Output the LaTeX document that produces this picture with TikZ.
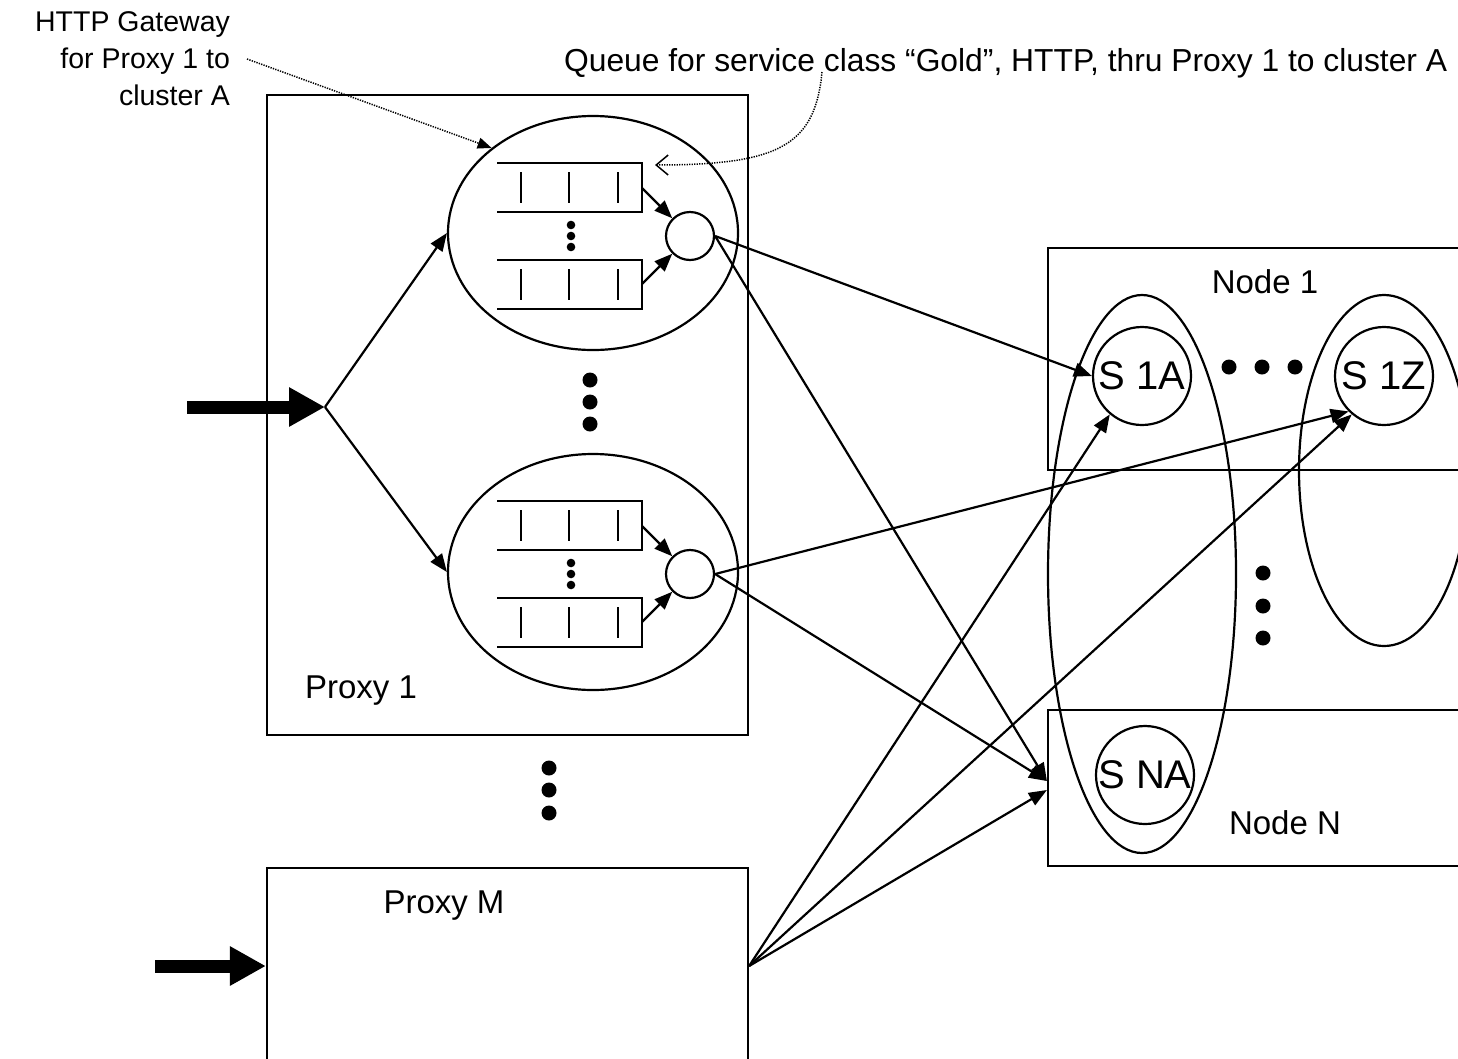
\documentclass[tikz,border=0pt]{standalone}
\usepackage{fontspec}
\setmainfont{Liberation Sans}
\usetikzlibrary{arrows.meta,shapes.geometric}
\begin{document}
\begin{tikzpicture}[x=1pt,y=-1pt,line width=2.2pt,
  lbl/.style={inner sep=0pt,font=\fontsize{28.5}{37}\selectfont},
  qlbl/.style={inner sep=0pt,font=\fontsize{31.8}{37}\selectfont},
  big/.style={inner sep=0pt,font=\fontsize{33}{40}\selectfont},
  box/.style={draw,rectangle,inner sep=0pt},
  oval/.style={draw,ellipse,inner sep=0pt},
  srv/.style={draw,circle,inner sep=0pt,minimum size=48pt},
  svc/.style={draw,circle,inner sep=0pt,minimum size=98pt,font=\fontsize{40}{40}\selectfont},
  flow/.style={-{Triangle[length=18pt,width=14pt]}},
  feed/.style={line width=13pt,-{Triangle[length=36pt,width=37pt]}},
  note/.style={line width=1.5pt,dash pattern=on 1.3pt off 1.2pt}]
\useasboundingbox (0,0) rectangle (1458,1058);
\clip (0,0) rectangle (1458,1058);

% proxy boxes
\node[box,minimum width=481pt,minimum height=640pt] (p1) at (507.5,415) {};
\node[box,minimum width=481pt,minimum height=196pt] (pm) at (507.5,966) {};
\node[big,anchor=base] (p1l) at (361,698) {Proxy 1};
\node[big,anchor=base] (pml) at (444,913) {Proxy M};

% gateways with their servers
\node[oval,minimum width=290pt,minimum height=234pt] (g1) at (593,233) {};
\node[oval,minimum width=290pt,minimum height=236pt] (g2) at (593,572) {};
\node[srv] (c1) at (690,236) {};
\node[srv] (c2) at (690,574) {};

% queues (open on the left) with three slots each
\foreach \cy/\n in {236/1,574/2}{
  \foreach \dy in {-48.5,48.5}{
    \draw (497,{\cy+\dy-24.5}) -- (642,{\cy+\dy-24.5}) -- (642,{\cy+\dy+24.5}) -- (497,{\cy+\dy+24.5});
    \foreach \bx in {521,569,618}
      \draw (\bx,{\cy+\dy-15.5}) -- (\bx,{\cy+\dy+15.5});
  }
  \foreach \dy in {-11,0,11}
    \fill (571,{\cy+\dy}) circle (4.3pt);
  \coordinate (qa\n) at (642,{\cy-48});
  \coordinate (qb\n) at (642,{\cy+48});
}
\draw[flow] (qa1) -- (c1);
\draw[flow] (qb1) -- (c1);
\draw[flow] (qa2) -- (c2);
\draw[flow] (qb2) -- (c2);

% ellipsis dots
\foreach \y in {380,402,424} \fill (590,\y) circle (7.5pt);
\foreach \y in {768,790,813} \fill (549,\y) circle (7.5pt);
\foreach \x in {1229,1262,1295} \fill (\x,367) circle (7.5pt);
\foreach \y in {573,606,638} \fill (1263,\y) circle (7.5pt);

% incoming traffic
\coordinate (fan) at (325,407);
\coordinate (in1) at (187,407);
\coordinate (inm) at (155,966);
\draw[feed] (in1) -- (fan);
\draw[feed] (inm) -- (pm.west);
\draw[flow] (fan) -- (g1.west);
\draw[flow] (fan) -- (g2.west);

% cluster nodes
\node[box,minimum width=440pt,minimum height=222pt] (n1) at (1268,359) {};
\node[box,minimum width=440pt,minimum height=156pt] (nN) at (1268,788) {};
\node[big,anchor=base] (n1l) at (1265,293) {Node 1};
\node[big,anchor=base] (nNl) at (1285,834) {Node N};
\node[oval,minimum width=188pt,minimum height=558pt] (ka) at (1142,574) {};
\node[oval,minimum width=170pt,minimum height=351pt] (kz) at (1384,470.5) {};
\node[svc] (s1a) at (1142,376) {S 1A};
\node[svc] (s1z) at (1384,376) {S 1Z};
\node[svc] (sna) at (1145,775) {S NA};

% dispatch
\draw[flow] (c1.east) -- (s1a.west);
\draw[flow] (c1.east) -- ([yshift=7pt]nN.west);
\draw[flow] (c2.east) -- (s1z.225);
\draw[flow] (c2.east) -- ([yshift=7pt]nN.west);
\draw[flow] (pm.east) -- (s1a.230);
\draw[flow] (pm.east) -- (s1z.230);
\draw[flow] (pm.east) -- ([yshift=-2pt]nN.west);

% annotations
\node[lbl,align=right,anchor=east] (gwl) at (231,59) {HTTP Gateway\\for Proxy 1 to\\cluster A};
\node[qlbl,anchor=base west] (ql) at (563,71) {Queue for service class “Gold”, HTTP, thru Proxy 1 to cluster A};
\coordinate (qs) at (822,72);
\coordinate (qtip) at (655,165);
\draw[note,-{Triangle[length=14pt,width=11pt]}] ([xshift=16pt]gwl.east) -- (g1.140);
\draw[note,-{Straight Barb[length=12pt,width=20pt]}] (qs) .. controls (815,145) and (780,165) .. (qtip);
\end{tikzpicture}
\end{document}
